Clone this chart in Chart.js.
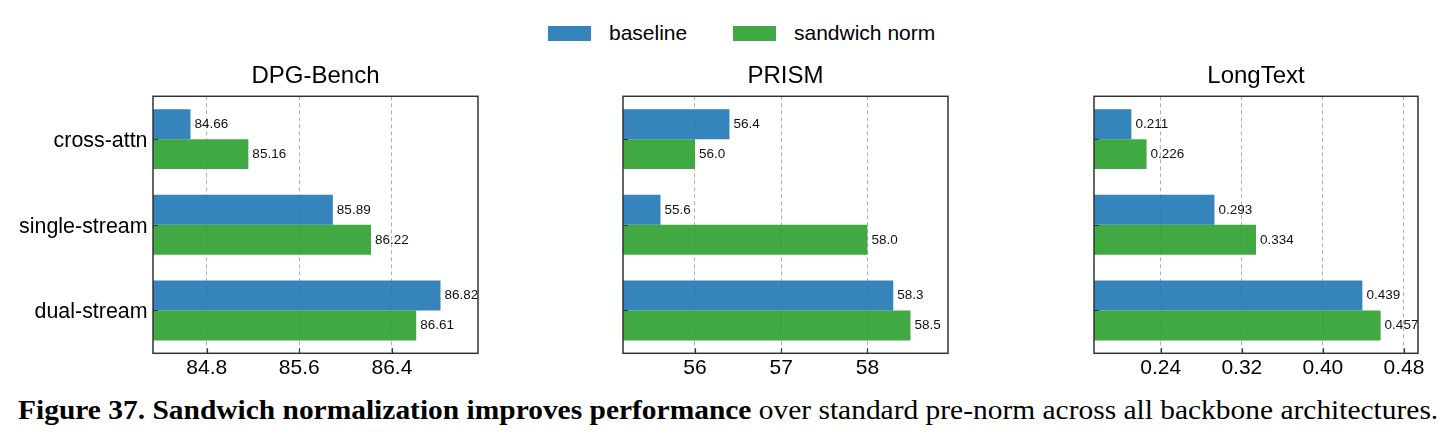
<!DOCTYPE html>
<html>
<head>
<meta charset="utf-8">
<script src="https://cdn.jsdelivr.net/npm/chart.js@4.4.0/dist/chart.umd.min.js"></script>
<style>
  body { margin: 0; background: #fff; width: 1445px; height: 442px; position: relative; overflow: hidden; }
  canvas { position: absolute; top: 0; }
  #legend { position: absolute; top: 0; left: 0; width: 1445px; height: 60px; font: 21px "Liberation Sans", Arial, sans-serif; color: #000; }
  .patch { position: absolute; top: 26px; width: 43px; height: 15px; }
  .ltext { position: absolute; top: 21px; line-height: 24px; }
  #caption { position: absolute; left: 18px; top: 395.5px; white-space: nowrap; font-family: "Liberation Serif", serif; font-size: 27px; line-height: 28px; color: #000; transform-origin: 0 0; }
</style>
</head>
<body>
<div id="legend">
  <div class="patch" style="left:548px; background:rgba(31,119,180,0.9)"></div>
  <div class="ltext" style="left:609px">baseline</div>
  <div class="patch" style="left:733px; background:rgba(44,160,44,0.9)"></div>
  <div class="ltext" style="left:794px">sandwich norm</div>
</div>
<canvas id="dpg" width="490" height="390" style="left:0px"></canvas>
<canvas id="prism" width="480" height="390" style="left:490px"></canvas>
<canvas id="longtext" width="475" height="390" style="left:970px"></canvas>
<div id="caption"><b>Figure 37. Sandwich normalization improves performance</b> over standard pre-norm across all backbone architectures.</div>
<script>
const categories = ['cross-attn', 'single-stream', 'dual-stream'];

const dpgBaseline = [84.66, 85.89, 86.82];
const dpgSandwich = [85.16, 86.22, 86.61];
const dpgTicks = [84.8, 85.6, 86.4];

const prismBaseline = [56.4, 55.6, 58.3];
const prismSandwich = [56.0, 58.0, 58.5];
const prismTicks = [56, 57, 58];

const longBaseline = [0.211, 0.293, 0.439];
const longSandwich = [0.226, 0.334, 0.457];
const longTicks = [0.24, 0.32, 0.40, 0.48];

const blue = 'rgba(31,119,180,0.9)';
const green = 'rgba(44,160,44,0.9)';
const font = '"Liberation Sans", Arial, sans-serif';

// value labels at bar ends + frame + inward ticks like matplotlib
const extras = {
    id: 'extras',
    afterDatasetsDraw(chart, args, opts) {
        const ctx = chart.ctx;
        const area = chart.chartArea;
        ctx.save();
        ctx.font = '13.5px ' + font;
        ctx.fillStyle = '#111';
        ctx.textBaseline = 'middle';
        chart.data.datasets.forEach((ds, i) => {
            chart.getDatasetMeta(i).data.forEach((bar, j) => {
                ctx.fillText(ds.data[j].toFixed(opts.decimals), bar.x + 4, bar.y);
            });
        });
        ctx.strokeStyle = '#333';
        ctx.lineWidth = 1.2;
        const xs = chart.scales.x, ys = chart.scales.y;
        ctx.beginPath();
        xs.ticks.forEach(t => {
            const px = Math.round(xs.getPixelForValue(t.value)) + 0.5;
            ctx.moveTo(px, area.bottom);
            ctx.lineTo(px, area.bottom - 5);
        });
        categories.forEach((c, k) => {
            const py = Math.round(ys.getPixelForValue(k)) + 0.5;
            ctx.moveTo(area.left, py);
            ctx.lineTo(area.left + 5, py);
        });
        ctx.stroke();
        ctx.lineWidth = 1.5;
        ctx.strokeRect(area.left, area.top, area.right - area.left, area.bottom - area.top);
        ctx.restore();
    }
};

function makePanel(id, title, baseline, sandwich, tickValues, tickDecimals, valueDecimals, yWidth, padRight, showLabels) {
    const all = baseline.concat(sandwich);
    const lo = Math.min(...all), hi = Math.max(...all);
    const pad = (hi - lo) * 0.15;
    new Chart(document.getElementById(id), {
        type: 'bar',
        data: {
            labels: categories,
            datasets: [
                { label: 'baseline', data: baseline, backgroundColor: blue },
                { label: 'sandwich norm', data: sandwich, backgroundColor: green }
            ]
        },
        options: {
            indexAxis: 'y',
            responsive: false,
            animation: false,
            devicePixelRatio: 1,
            categoryPercentage: 0.7,
            barPercentage: 1.0,
            layout: { padding: { left: 0, right: padRight, top: 0, bottom: 0 } },
            plugins: {
                legend: { display: false },
                tooltip: { enabled: false },
                title: {
                    display: true, text: title, fullSize: false, color: '#000',
                    font: { family: font, size: 24, weight: 'normal', lineHeight: 1.2 },
                    padding: { top: 61.5, bottom: 6 }
                },
                extras: { decimals: valueDecimals }
            },
            scales: {
                x: {
                    min: lo - pad,
                    max: hi + pad,
                    afterBuildTicks: s => { s.ticks = tickValues.map(v => ({ value: v })); },
                    afterFit: s => { s.height = 36.7; },
                    grid: { color: '#b0b0b0', lineWidth: 1, drawTicks: false },
                    border: { display: false, dash: [4, 3] },
                    ticks: {
                        padding: 2.5, color: '#000', font: { family: font, size: 21 },
                        callback: v => Number(v).toFixed(tickDecimals)
                    }
                },
                y: {
                    afterFit: s => { s.width = yWidth; },
                    grid: { display: false, drawTicks: false },
                    border: { display: false },
                    ticks: { display: showLabels, padding: 5.5, labelOffset: 2, color: '#000', font: { family: font, size: 21.4 } }
                }
            }
        },
        plugins: [extras]
    });
}

makePanel('dpg', 'DPG-Bench', dpgBaseline, dpgSandwich, dpgTicks, 1, 2, 153, 12, true);
makePanel('prism', 'PRISM', prismBaseline, prismSandwich, prismTicks, 0, 1, 133, 22, false);
makePanel('longtext', 'LongText', longBaseline, longSandwich, longTicks, 2, 3, 124, 27, false);

// fit caption to the width it occupies in the figure
const cap = document.getElementById('caption');
cap.style.transform = 'scaleX(' + (1420 / cap.scrollWidth) + ')';
</script>
</body>
</html>
